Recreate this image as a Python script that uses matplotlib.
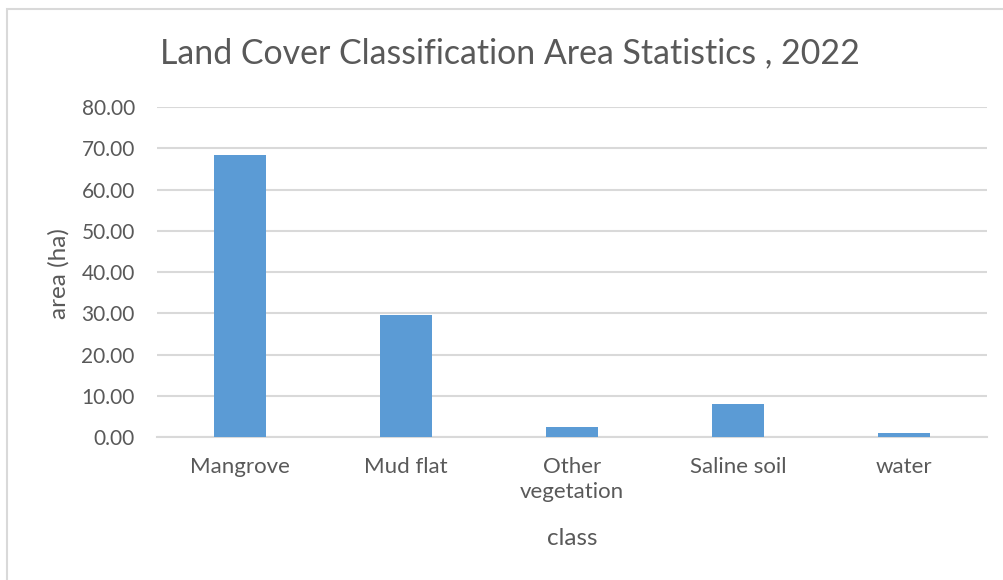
import matplotlib.pyplot as plt
from matplotlib.patches import Rectangle

classes = ['Mangrove', 'Mud flat', 'Other\nvegetation', 'Saline soil', 'water']
area_ha = [68.3, 29.7, 2.4, 8.0, 1.1]
yticks = [0, 10, 20, 30, 40, 50, 60, 70, 80]

plt.rcParams['font.family'] = ['Lato', 'DejaVu Sans']
text_color = '#595959'
grid_color = '#d9d9d9'

fig = plt.figure(figsize=(10.04, 5.8), dpi=100)
ax = fig.add_axes([0.1564, 0.246, 0.8267, 0.5695])

x = range(len(classes))
ax.bar(x, area_ha, width=0.317, color='#5b9bd5', zorder=3)

ax.set_xlim(-0.5, len(classes) - 0.5)
ax.set_ylim(0, 80)
ax.set_yticks(yticks)
ax.set_yticklabels([f'{v:.2f}' for v in yticks])
ax.set_xticks(list(x))
ax.set_xticklabels(classes, linespacing=1.3)

ax.grid(axis='y', color=grid_color, linewidth=1.5, zorder=0)
for side in ['top', 'right', 'left']:
    ax.spines[side].set_visible(False)
ax.spines['bottom'].set_color(grid_color)
ax.spines['bottom'].set_linewidth(1.5)
ax.tick_params(axis='x', length=0, labelsize=16, labelcolor=text_color, pad=14)
ax.tick_params(axis='y', length=0, labelsize=15, labelcolor=text_color, pad=16)

ax.set_ylabel('area (ha)', fontsize=17.5, color=text_color, va='center')
ax.set_xlabel('class', fontsize=17.5, color=text_color, va='center')
ax.yaxis.set_label_coords(-0.118, 0.496)
ax.xaxis.set_label_coords(0.5, -0.305)

fig.text(0.508, 0.9086, 'Land Cover Classification Area Statistics , 2022',
         ha='center', va='center', fontsize=24.4, color=text_color)

# chart frame
fig.patches.append(Rectangle((7 / 1004, -0.1), 1.2, 1 - 9 / 580 + 0.1,
                             transform=fig.transFigure, fill=False,
                             edgecolor=grid_color, linewidth=1.5))

fig.savefig('out.png', dpi=100)
